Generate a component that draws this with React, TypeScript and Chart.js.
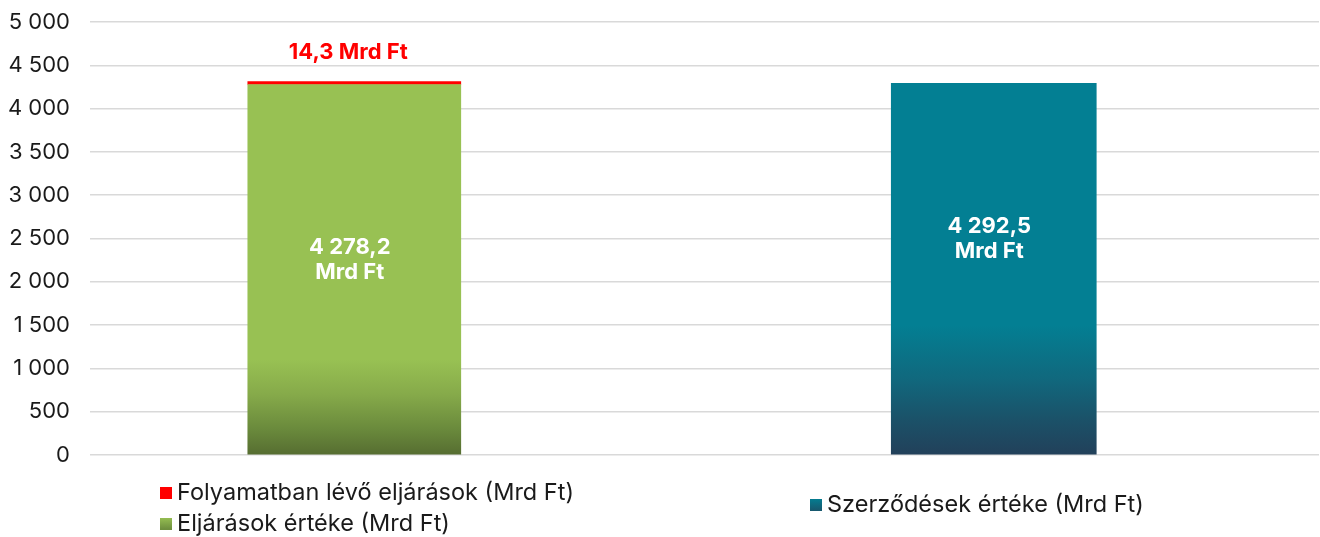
import React, { useEffect, useRef } from "react";
import { Chart, registerables } from "chart.js";

Chart.register(...registerables);

// ---- data ----
const categories = ["Eljárások", "Szerződések"];
const eljarasokErteke: (number | null)[] = [4278.2, null];
const folyamatbanLevo: (number | null)[] = [14.3, null];
const szerzodesekErteke: (number | null)[] = [null, 4292.5];
const seriesNames = [
  "Folyamatban lévő eljárások (Mrd Ft)",
  "Eljárások értéke (Mrd Ft)",
  "Szerződések értéke (Mrd Ft)",
];
const unit = "Mrd Ft";
const yMin = 0;
const yMax = 5000;
const yStep = 500;

// ---- styles ----
const FONT = "Inter, 'Noto Sans', sans-serif";
const GREEN_TOP = "#98C153";
const TEAL_TOP = "#037F93";
const RED = "#FF0000";

const fmtInt = (v: number) =>
  Math.round(v).toString().replace(/\B(?=(\d{3})+(?!\d))/g, " ");
const fmtDec = (v: number) => {
  const [i, d] = v.toFixed(1).split(".");
  return fmtInt(Number(i)) + "," + d;
};

const toPoints = (arr: (number | null)[]) =>
  arr
    .map((v, i) => ({ x: i, y: v }))
    .filter((p) => p.y !== null) as { x: number; y: number }[];

function gradient(chart: any, stops: [number, string][]) {
  const area = chart.chartArea;
  if (!area) return stops[stops.length - 1][1];
  const g = chart.ctx.createLinearGradient(0, area.bottom, 0, area.top);
  stops.forEach(([o, c]) => g.addColorStop(o, c));
  return g;
}
const greenStops: [number, string][] = [
  [0, "#566D31"],
  [0.06, "#6A8A3C"],
  [0.14, "#86AA4A"],
  [0.22, GREEN_TOP],
  [1, GREEN_TOP],
];
const tealStops: [number, string][] = [
  [0, "#22405A"],
  [0.08, "#1B5168"],
  [0.18, "#10697E"],
  [0.3, TEAL_TOP],
  [1, TEAL_TOP],
];

const labelPlugin = {
  id: "valueLabels",
  afterDatasetsDraw(chart: any) {
    const ctx = chart.ctx;
    ctx.save();
    ctx.textAlign = "center";
    ctx.textBaseline = "middle";
    const redMeta = chart.getDatasetMeta(1);
    redMeta.data.forEach((el: any, i: number) => {
      const v = (chart.data.datasets[1].data[i] as any).y;
      ctx.font = `bold 22px ${FONT}`;
      ctx.fillStyle = RED;
      ctx.fillText(`${fmtDec(v)} ${unit}`, el.x - 6, el.y - 29);
    });
    const inner = [
      { ds: 0, off: -10 },
      { ds: 2, off: -30 },
    ];
    inner.forEach(({ ds, off }) => {
      const meta = chart.getDatasetMeta(ds);
      meta.data.forEach((el: any, i: number) => {
        const v = (chart.data.datasets[ds].data[i] as any).y;
        const cy = (el.y + el.base) / 2 + off;
        ctx.font = `bold 22px ${FONT}`;
        ctx.fillStyle = "#FFFFFF";
        ctx.fillText(fmtDec(v), el.x - 4.5, cy - 12);
        ctx.fillText(unit, el.x - 4.5, cy + 13);
      });
    });
    ctx.restore();
  },
};

const legendPlugin = {
  id: "splitLegend",
  afterDraw(chart: any) {
    const ctx = chart.ctx;
    const items = [
      { x: 160, y: 492, fill: RED, text: seriesNames[0] },
      { x: 160, y: 523, fill: "green", text: seriesNames[1] },
      { x: 810, y: 504, fill: "teal", text: seriesNames[2] },
    ];
    ctx.save();
    ctx.font = `23.5px ${FONT}`;
    ctx.textBaseline = "middle";
    ctx.textAlign = "left";
    items.forEach((it) => {
      const s = 12;
      let f: any = it.fill;
      if (it.fill === "green" || it.fill === "teal") {
        const g = ctx.createLinearGradient(0, it.y - s / 2, 0, it.y + s / 2);
        if (it.fill === "green") {
          g.addColorStop(0, GREEN_TOP);
          g.addColorStop(1, "#6E8F3E");
        } else {
          g.addColorStop(0, TEAL_TOP);
          g.addColorStop(1, "#17596F");
        }
        f = g;
      }
      ctx.fillStyle = f;
      ctx.fillRect(it.x, it.y - s / 2 + 1, s, s);
      ctx.fillStyle = "#1A1A1A";
      ctx.fillText(it.text, it.x + 17, it.y + 1);
    });
    ctx.restore();
  },
};

export default function App() {
  const ref = useRef<HTMLCanvasElement | null>(null);

  useEffect(() => {
    document.body.style.margin = "0";
    if (!ref.current) return;
    const chart = new Chart(ref.current, {
      type: "bar",
      data: {
        labels: categories,
        datasets: [
          {
            label: seriesNames[1],
            data: toPoints(eljarasokErteke) as any,
            backgroundColor: (c: any) => gradient(c.chart, greenStops),
            barThickness: 213,
          },
          {
            label: seriesNames[0],
            data: toPoints(folyamatbanLevo) as any,
            backgroundColor: RED,
            minBarLength: 3,
            barThickness: 213,
          },
          {
            label: seriesNames[2],
            data: toPoints(szerzodesekErteke) as any,
            backgroundColor: (c: any) => gradient(c.chart, tealStops),
            barThickness: 205,
          },
        ],
      },
      options: {
        animation: false,
        responsive: false,
        maintainAspectRatio: false,
        layout: { padding: { top: 22, right: 1, bottom: 82, left: 0 } },
        plugins: {
          legend: { display: false },
          tooltip: { enabled: false },
        },
        scales: {
          x: {
            type: "linear",
            min: -0.4133,
            max: 1.5086,
            offset: false,
            stacked: true,
            display: false,
          },
          y: {
            stacked: true,
            min: yMin,
            max: yMax,
            border: { display: false },
            grid: {
              color: "#D9D9D9",
              lineWidth: 1.5,
              drawTicks: false,
              tickLength: 0,
            },
            ticks: {
              stepSize: yStep,
              padding: 20,
              color: "#1A1A1A",
              font: { family: FONT, size: 22 },
              callback: (v: any) => fmtInt(Number(v)),
            },
            afterFit: (s: any) => {
              s.width = 90;
              s.paddingTop = 0;
              s.paddingBottom = 0;
            },
          },
        },
      },
      plugins: [labelPlugin, legendPlugin],
    });
    return () => chart.destroy();
  }, []);

  return (
    <div style={{ width: 1320, height: 537, background: "#fff" }}>
      <canvas ref={ref} width={1320} height={537} />
    </div>
  );
}
